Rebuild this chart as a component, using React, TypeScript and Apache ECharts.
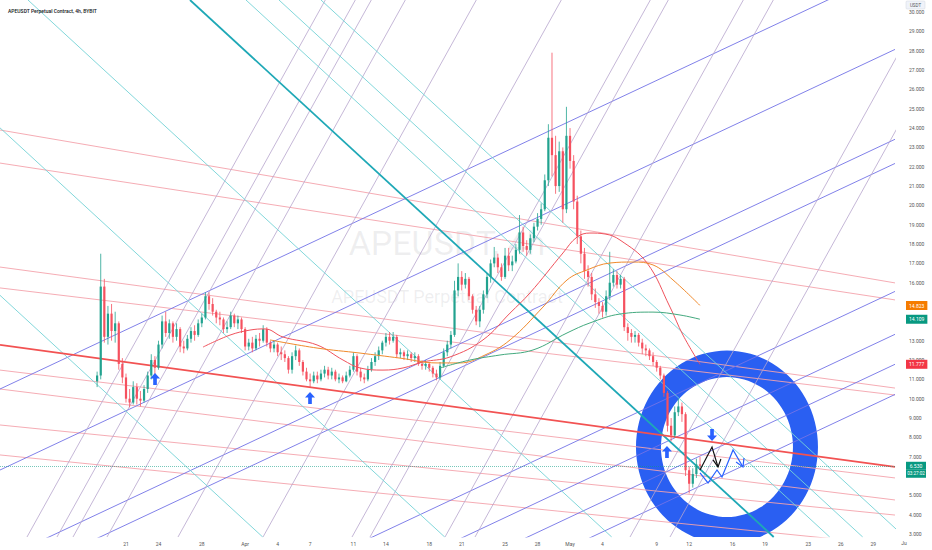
import React, { useEffect, useRef } from 'react';
import * as echarts from 'echarts';

const TITLE = 'APEUSDT Perpetual Contract, 4h, BYBIT';
const WATERMARK_1 = 'APEUSDT, 4h';
const WATERMARK_2 = 'APEUSDT Perpetual Contract';

// time axis in days since 2022-03-01 00:00
const xRange = [8.366, 91.005];
const yRange = [2.845, 30.626];
const xTickDays = [20, 23, 27, 31, 34, 37, 41, 44, 48, 51, 55, 58, 61, 64, 69, 72, 76, 79, 83, 86, 89];
const xTickLabels = ['21', '24', '28', 'Apr', '4', '7', '11', '14', '18', '21', '25', '28', 'May', '4', '9', '12', '16', '19', '23', '26', '29'];
// 6, 14 and 15 sit behind the price tags in the reference
const yTicks = [3, 4, 5, 7, 8, 9, 10, 11, 12, 13, 16, 17, 18, 19, 20, 21, 22, 23, 24, 25, 26, 27, 28, 29, 30];

const candleStartDay = 17 + 1 / 3;
const candleStepDay = 1 / 3;
// [open, close, low, high]
const candles = [
  [10.9, 11.2, 10.6, 11.4], [11.2, 15.8, 11.0, 17.5], [15.8, 13.2, 12.9, 16.2], [13.2, 14.4, 12.8, 14.8],
  [14.4, 13.5, 13.0, 14.9], [13.5, 13.9, 12.9, 14.5], [13.9, 11.8, 11.5, 14.0], [11.8, 11.1, 10.8, 12.1],
  [11.1, 10.0, 9.8, 11.3], [10.0, 9.8, 9.55, 10.5], [9.8, 10.6, 9.7, 10.9], [10.6, 10.0, 9.7, 10.8],
  [10.0, 9.9, 9.6, 10.4], [9.9, 10.5, 9.8, 10.7], [10.5, 11.2, 10.3, 11.4], [11.2, 12.0, 11.0, 12.3],
  [12.0, 11.6, 11.2, 12.2], [11.6, 12.8, 11.5, 13.0], [12.8, 14.0, 12.6, 14.3], [14.0, 13.4, 13.2, 14.5],
  [13.4, 13.9, 13.1, 14.1], [13.9, 13.2, 12.9, 14.0], [13.2, 13.6, 13.0, 13.9], [13.6, 12.7, 12.4, 13.7],
  [12.7, 12.6, 12.35, 13.0], [12.6, 13.1, 12.5, 13.3], [13.1, 13.5, 12.9, 13.7], [13.5, 13.3, 13.0, 13.8],
  [13.3, 13.9, 13.2, 14.1], [13.9, 14.2, 13.7, 14.4], [14.2, 15.3, 14.1, 15.5], [15.3, 14.9, 14.6, 15.5],
  [14.9, 14.5, 14.3, 15.2], [14.5, 14.2, 13.9, 14.6], [14.2, 14.1, 13.8, 14.5], [14.1, 13.6, 13.4, 14.2],
  [13.6, 13.7, 13.4, 14.0], [13.7, 14.3, 13.6, 14.5], [14.3, 13.9, 13.7, 14.4], [13.9, 14.1, 13.6, 14.3],
  [14.1, 13.6, 13.4, 14.2], [13.6, 12.7, 12.5, 13.7], [12.7, 12.9, 12.5, 13.1], [12.9, 12.6, 12.4, 13.2],
  [12.6, 13.1, 12.5, 13.3], [13.1, 13.0, 12.7, 13.4], [13.0, 13.6, 12.9, 13.8], [13.6, 12.9, 12.7, 13.7],
  [12.9, 12.6, 12.4, 13.0], [12.6, 12.8, 12.4, 13.0], [12.8, 12.4, 12.2, 12.9], [12.4, 12.3, 12.0, 12.7],
  [12.3, 12.1, 11.9, 12.5], [12.1, 11.5, 11.3, 12.2], [11.5, 12.2, 11.3, 12.4], [12.2, 12.5, 12.0, 12.75],
  [12.5, 11.9, 11.7, 12.6], [11.9, 11.4, 11.2, 12.0], [11.4, 11.0, 10.9, 11.6], [11.0, 10.9, 10.6, 11.3],
  [10.9, 11.2, 10.8, 11.4], [11.2, 11.0, 10.8, 11.4], [11.0, 11.3, 10.9, 11.5], [11.3, 11.5, 11.1, 11.7],
  [11.5, 11.2, 11.0, 11.65], [11.2, 11.4, 11.0, 11.6], [11.4, 11.0, 10.9, 11.5], [11.0, 11.1, 10.8, 11.3],
  [11.1, 10.9, 10.8, 11.2], [10.9, 11.2, 10.85, 11.4], [11.2, 11.5, 11.1, 11.7], [11.5, 12.2, 11.4, 12.4],
  [12.2, 11.4, 11.2, 12.3], [11.4, 11.1, 10.9, 11.6], [11.1, 11.0, 10.8, 11.3], [11.0, 11.5, 10.9, 11.7],
  [11.5, 11.9, 11.4, 12.1], [11.9, 12.2, 11.7, 12.4], [12.2, 12.5, 12.0, 12.7], [12.5, 12.9, 12.3, 13.0],
  [12.9, 13.2, 12.7, 13.4], [13.2, 13.0, 12.8, 13.45], [13.0, 13.2, 12.9, 13.45], [13.2, 12.3, 12.1, 13.3],
  [12.3, 12.4, 12.1, 12.6], [12.4, 12.2, 12.0, 12.5], [12.2, 12.3, 12.0, 12.5], [12.3, 12.1, 11.9, 12.4],
  [12.1, 12.2, 11.9, 12.4], [12.2, 11.8, 11.7, 12.3], [11.8, 11.7, 11.5, 12.0], [11.7, 11.8, 11.5, 12.0],
  [11.8, 11.6, 11.4, 11.9], [11.6, 11.3, 11.1, 11.7], [11.3, 11.1, 10.95, 11.5], [11.1, 11.7, 11.0, 11.9],
  [11.7, 12.4, 11.6, 12.6], [12.4, 12.8, 12.2, 13.0], [12.8, 13.3, 12.6, 13.5], [13.3, 15.6, 13.2, 16.1],
  [15.6, 16.3, 15.3, 17.0], [16.3, 15.9, 15.6, 16.6], [15.9, 16.2, 15.7, 16.5], [16.2, 15.3, 15.1, 16.3],
  [15.3, 14.6, 14.4, 15.4], [14.6, 14.0, 13.8, 14.8], [14.0, 14.6, 13.7, 14.8], [14.6, 15.4, 14.4, 15.6],
  [15.4, 16.3, 15.2, 16.5], [16.3, 17.0, 16.0, 17.2], [17.0, 17.3, 16.8, 17.85], [17.3, 16.8, 16.5, 17.5],
  [16.8, 16.3, 16.1, 17.0], [16.3, 17.4, 16.2, 17.8], [17.4, 16.9, 16.6, 17.8], [16.9, 17.1, 16.6, 17.4],
  [17.1, 17.7, 17.0, 18.0], [17.7, 18.6, 17.5, 19.5], [18.6, 17.9, 17.6, 18.9], [17.9, 17.7, 17.4, 18.2],
  [17.7, 18.3, 17.5, 18.5], [18.3, 18.9, 18.1, 19.1], [18.9, 19.3, 18.7, 19.6], [19.3, 19.8, 19.0, 20.1],
  [19.8, 21.3, 19.7, 21.6], [21.3, 23.5, 21.0, 24.2], [23.5, 22.6, 21.5, 27.9], [22.6, 21.0, 20.6, 23.6],
  [21.0, 22.8, 20.7, 23.3], [22.8, 19.8, 19.1, 23.0], [19.8, 23.6, 19.6, 25.1], [23.6, 22.3, 21.9, 24.0],
  [22.3, 20.2, 19.8, 22.6], [20.2, 18.4, 18.0, 20.5], [18.4, 17.5, 17.0, 18.7], [17.5, 16.6, 16.2, 17.8],
  [16.6, 16.3, 15.8, 16.9], [16.3, 15.4, 15.1, 16.5], [15.4, 15.0, 14.7, 15.7], [15.0, 14.8, 14.4, 15.2],
  [14.8, 14.5, 14.2, 15.0], [14.5, 15.3, 14.3, 15.6], [15.3, 16.0, 15.1, 17.6], [16.0, 16.4, 15.8, 16.7],
  [16.4, 15.9, 15.7, 16.6], [15.9, 16.2, 15.7, 16.4], [16.2, 13.7, 13.5, 16.3], [13.7, 13.4, 13.0, 13.9],
  [13.4, 13.2, 12.9, 13.6], [13.2, 13.3, 12.9, 13.5], [13.3, 12.9, 12.7, 13.4], [12.9, 12.6, 12.3, 13.1],
  [12.6, 12.5, 12.2, 12.8], [12.5, 12.2, 12.0, 12.6], [12.2, 11.9, 11.7, 12.4], [11.9, 11.6, 11.4, 12.0],
  [11.6, 11.2, 11.0, 11.7], [11.2, 10.3, 10.1, 11.3], [10.3, 8.6, 8.3, 10.4], [8.6, 8.1, 7.8, 9.0],
  [8.1, 9.3, 8.0, 9.6], [9.3, 9.6, 9.1, 10.0], [9.6, 9.2, 8.8, 9.8], [9.2, 6.3, 6.0, 9.3],
  [6.3, 5.6, 5.1, 6.5], [5.6, 6.1, 5.4, 6.4], [6.1, 6.6, 5.9, 6.9], [6.6, 6.53, 6.3, 7.0],
];

// moving averages [day, price]
const maRed = [
  [27.11, 12.67], [29.6, 13.29], [31.45, 13.55], [32.83, 13.61], [34.5, 13.19], [37.64, 12.78],
  [40.04, 12.0], [41.61, 11.59], [43.73, 11.48], [45.58, 11.59], [47.42, 11.9], [49.92, 12.16],
  [52.96, 13.04], [55.46, 14.43], [57.3, 15.47], [60.35, 17.54], [61.64, 18.36], [62.84, 18.57],
  [64.23, 18.52], [65.61, 18.21], [68.11, 17.02], [70.23, 14.74], [71.43, 13.29], [73.0, 11.777],
];
const maOrange = [
  [33.3, 13.04], [37.64, 12.62], [41.61, 12.36], [45.3, 12.1], [48.72, 11.85], [50.84, 11.85],
  [53.15, 12.26], [55.46, 13.04], [58.5, 14.74], [60.72, 16.14], [62.57, 16.66], [64.69, 17.02],
  [66.81, 17.07], [68.66, 16.92], [70.51, 16.14], [73.0, 14.823],
];
const maGreen = [
  [48.99, 11.59], [51.76, 12.0], [54.53, 12.26], [57.58, 12.52], [60.72, 13.4], [62.84, 13.92],
  [65.61, 14.38], [68.66, 14.48], [71.15, 14.33], [73.0, 14.109],
];

// drawn lines [day1, price1, day2, price2]
const redThickLine = [[8.366, 12.78, 91.005, 6.47]];
const pinkLines = [
  [8.366, 23.9, 91.005, 15.99], [8.366, 22.19, 91.005, 15.11], [8.366, 16.81, 91.005, 10.55],
  [8.366, 15.73, 91.005, 10.19], [8.366, 11.48, 91.005, 5.9], [8.366, 10.5, 91.005, 4.76],
  [8.366, 8.64, 91.005, 3.98], [8.366, 7.09, 91.005, 2.43],
];
const blueLines = [
  [8.366, 10.5, 91.005, 32.26], [8.366, 6.31, 91.005, 28.07], [8.366, 1.655, 91.005, 23.42],
  [8.366, 0.413, 91.005, 22.17], [8.366, -6.21, 91.005, 15.55], [8.366, -8.43, 91.005, 13.33],
  [8.366, -9.99, 91.005, 11.78], [8.366, -11.54, 91.005, 10.22],
];
const purpleLines = [
  [10.859, 2.845, 38.403, 30.626], [13.629, 2.845, 41.173, 30.626], [15.106, 2.845, 42.65, 30.626],
  [18.246, 2.845, 45.79, 30.626], [24.801, 2.845, 52.345, 30.626], [32.65, 2.845, 60.194, 30.626],
  [40.868, 2.845, 68.412, 30.626], [42.53, 2.845, 70.074, 30.626], [49.455, 2.845, 76.999, 30.626],
  [52.225, 2.845, 79.769, 30.626], [66.537, 2.845, 94.081, 30.626], [70.231, 2.845, 97.775, 30.626],
];
const tealLines = [
  [-21.274, 30.626, 32.622, 2.845], [-4.469, 30.626, 49.428, 2.845], [10.951, 30.626, 64.848, 2.845],
  [31.08, 30.626, 84.977, 2.845], [34.127, 30.626, 88.024, 2.845], [38.006, 30.626, 91.903, 2.845],
];
const tealThickLine = [[25.91, 30.626, 79.806, 2.845]];

// annotations
const upArrows = [[22.68, 11.02], [36.99, 10.04], [69.95, 7.24]];
const downArrows = [[74.11, 8.12]];
const blackZigzag = [[73.0, 6.31], [74.11, 7.5], [74.66, 6.47]];
const blackHead = [[74.2, 6.83], [74.66, 6.47], [74.93, 6.88]];
const blueZigzag = [[73.0, 6.16], [73.74, 5.64], [74.57, 6.31], [75.03, 5.95], [76.05, 7.35], [76.97, 6.47]];
const blueHead = [[76.33, 6.72], [76.97, 6.47], [77.06, 6.93]];
const ringCenter = [[75.49, 7.5]];

const priceTags = [
  { value: 14.823, text: '14.823', color: '#f57c00' },
  { value: 14.109, text: '14.109', color: '#089981' },
  { value: 11.777, text: '11.777', color: '#f23645' },
];
const lastPrice = 6.53;
const lastPriceText = '6.530';
const countdownText = '03:27:02';

const FONT = 'Roboto, "Noto Sans", sans-serif';
const UP = '#22a28f';
const DOWN = '#f5515f';

function linesSeries(rows, color, width, z) {
  return {
    type: 'lines',
    coordinateSystem: 'cartesian2d',
    clip: true,
    silent: true,
    z,
    lineStyle: { color, width, opacity: 1 },
    data: rows.map((r) => ({ coords: [[r[0], r[1]], [r[2], r[3]]] })),
  };
}

export default function App() {
  const ref = useRef(null);
  useEffect(() => {
    document.body.style.margin = '0';
    const chart = echarts.init(ref.current, null, { renderer: 'svg' });
    const candleData = candles.map((c, i) => [candleStartDay + i * candleStepDay, c[0], c[1], c[2], c[3]]);
    const upPath = 'path://M6,0 L12,6.5 L8.2,6.5 L8.2,14 L3.8,14 L3.8,6.5 L0,6.5 Z';
    const downPath = 'path://M3.8,0 L8.2,0 L8.2,7.5 L12,7.5 L6,14 L0,7.5 L3.8,7.5 Z';
    const tagLabel = (text, color) => ({
      show: true,
      position: 'end',
      distance: 11,
      formatter: text,
      color: '#fff',
      opacity: 1,
      fontSize: 5,
      fontFamily: FONT,
      padding: [2, 3, 2, 3],
      backgroundColor: color,
    });
    const option = {
      animation: false,
      textStyle: { fontFamily: FONT },
      title: {
        text: TITLE,
        left: 3,
        top: 3,
        textStyle: { fontSize: 5, fontWeight: 500, color: '#131722', fontFamily: FONT },
        z: 20,
      },
      grid: { left: 0, right: 37, top: 0, bottom: 13, containLabel: false, outerBoundsMode: 'none' },
      xAxis: {
        type: 'value',
        min: xRange[0],
        max: xRange[1],
        axisLine: { show: false },
        axisTick: { show: false },
        splitLine: { show: false },
        axisLabel: {
          customValues: xTickDays,
          formatter: (v) => {
            const i = xTickDays.findIndex((d) => Math.abs(d - v) < 1e-6);
            return i >= 0 ? xTickLabels[i] : '';
          },
          fontSize: 5,
          color: '#555',
          margin: 4,
          fontFamily: FONT,
        },
      },
      yAxis: {
        type: 'value',
        position: 'right',
        min: yRange[0],
        max: yRange[1],
        axisLine: { show: false },
        axisTick: { show: false },
        splitLine: { show: false },
        axisLabel: {
          customValues: yTicks,
          formatter: (v) => Number(v).toFixed(3),
          fontSize: 5,
          color: '#555',
          margin: 14,
          fontFamily: FONT,
        },
      },
      graphic: [
        {
          type: 'text', x: 447, y: 243, z: 0, silent: true,
          style: { text: WATERMARK_1, fontSize: 34, fontFamily: FONT, fill: 'rgba(120,123,134,0.12)', align: 'center', verticalAlign: 'middle' },
        },
        {
          type: 'text', x: 447, y: 296, z: 0, silent: true,
          style: { text: WATERMARK_2, fontSize: 18, fontFamily: FONT, fill: 'rgba(120,123,134,0.12)', align: 'center', verticalAlign: 'middle' },
        },
        {
          type: 'rect', x: 906, y: 1, z: 20, silent: true,
          shape: { width: 19, height: 8, r: 1 },
          style: { fill: '#f0f3fa', stroke: '#d1d4dc', lineWidth: 0.5 },
        },
        {
          type: 'text', x: 915.5, y: 5, z: 21, silent: true,
          style: { text: 'USDT', fontSize: 4.5, fontFamily: FONT, fill: '#555', align: 'center', verticalAlign: 'middle' },
        },
        {
          type: 'text', x: 904, y: 543, z: 21, silent: true,
          style: { text: 'Ju', fontSize: 5, fontFamily: FONT, fill: '#555', align: 'center', verticalAlign: 'middle' },
        },
      ],
      series: [
        {
          type: 'custom',
          name: 'ring',
          data: ringCenter,
          clip: true,
          silent: true,
          z: 1,
          renderItem: (params, api) => {
            const c = api.coord([api.value(0), api.value(1)]);
            return {
              type: 'ring',
              x: c[0],
              y: c[1],
              scaleY: 1.06,
              shape: { cx: 0, cy: 0, r: 91, r0: 66 },
              style: { fill: '#2a5ff2' },
            };
          },
        },
        linesSeries(pinkLines, '#f4a3ab', 0.9, 2),
        linesSeries(blueLines, '#7373e6', 0.9, 2),
        linesSeries(purpleLines, '#b6a5cd', 0.8, 2),
        linesSeries(tealLines, '#74d2d6', 0.9, 2),
        linesSeries(tealThickLine, '#1ea8b6', 1.8, 2),
        linesSeries(redThickLine, '#f25252', 1.8, 2),
        {
          type: 'custom',
          name: 'APEUSDT',
          data: candleData,
          encode: { x: 0, y: [1, 2, 3, 4] },
          clip: true,
          silent: true,
          z: 3,
          renderItem: (params, api) => {
            const t = api.value(0);
            const o = api.value(1);
            const c = api.value(2);
            const l = api.value(3);
            const h = api.value(4);
            const po = api.coord([t, o]);
            const pc = api.coord([t, c]);
            const pl = api.coord([t, l]);
            const ph = api.coord([t, h]);
            const color = c >= o ? UP : DOWN;
            const w = 2.2;
            const top = Math.min(po[1], pc[1]);
            const hh = Math.max(Math.abs(po[1] - pc[1]), 1);
            return {
              type: 'group',
              children: [
                { type: 'line', shape: { x1: po[0], y1: ph[1], x2: po[0], y2: pl[1] }, style: { stroke: color, lineWidth: 0.8 } },
                { type: 'rect', shape: { x: po[0] - w / 2, y: top, width: w, height: hh }, style: { fill: color } },
              ],
            };
          },
        },
        {
          type: 'line', data: maRed, smooth: 0.4, showSymbol: false, silent: true, z: 4,
          lineStyle: { color: '#f0525c', width: 1 },
        },
        {
          type: 'line', data: maOrange, smooth: 0.4, showSymbol: false, silent: true, z: 4,
          lineStyle: { color: '#f08a2c', width: 1 },
        },
        {
          type: 'line', data: maGreen, smooth: 0.4, showSymbol: false, silent: true, z: 4,
          lineStyle: { color: '#43a97e', width: 1 },
          markLine: {
            silent: true,
            symbol: ['none', 'none'],
            animation: false,
            data: [
              ...priceTags.map((p) => ({
                yAxis: p.value,
                lineStyle: { color: 'rgba(0,0,0,0)', width: 0, opacity: 1 },
                label: tagLabel(p.text, p.color),
              })),
              {
                yAxis: lastPrice,
                lineStyle: { color: 'rgba(8,153,129,0.55)', type: 'dotted', width: 1, opacity: 1 },
                label: {
                  show: true,
                  position: 'end',
                  distance: 11,
                  opacity: 1,
                  formatter: '{e| }\n{t|' + lastPriceText + '}\n{c|' + countdownText + '}',
                  rich: {
                    e: { height: 8, fontSize: 5 },
                    t: { height: 8, width: 20, align: 'center', fontSize: 5, color: '#fff', backgroundColor: '#089981', fontFamily: FONT },
                    c: { height: 8, width: 20, align: 'center', fontSize: 4.6, color: '#fff', backgroundColor: '#089981', fontFamily: FONT },
                  },
                },
              },
            ],
          },
        },
        {
          type: 'lines', coordinateSystem: 'cartesian2d', polyline: true, silent: true, z: 6,
          lineStyle: { color: '#111111', width: 1.2, opacity: 1 },
          data: [{ coords: blackZigzag }, { coords: blackHead }],
        },
        {
          type: 'lines', coordinateSystem: 'cartesian2d', polyline: true, silent: true, z: 6,
          lineStyle: { color: '#2962ff', width: 1.2, opacity: 1 },
          data: [{ coords: blueZigzag }, { coords: blueHead }],
        },
        {
          type: 'scatter', data: upArrows, symbol: upPath, symbolSize: [10, 12], silent: true, z: 6,
          itemStyle: { color: '#2962ff', opacity: 1 },
        },
        {
          type: 'scatter', data: downArrows, symbol: downPath, symbolSize: [10, 12], silent: true, z: 6,
          itemStyle: { color: '#2962ff', opacity: 1 },
        },
      ],
    };
    chart.setOption(option);
    return () => chart.dispose();
  }, []);
  return <div ref={ref} style={{ width: 932, height: 550 }} />;
}
